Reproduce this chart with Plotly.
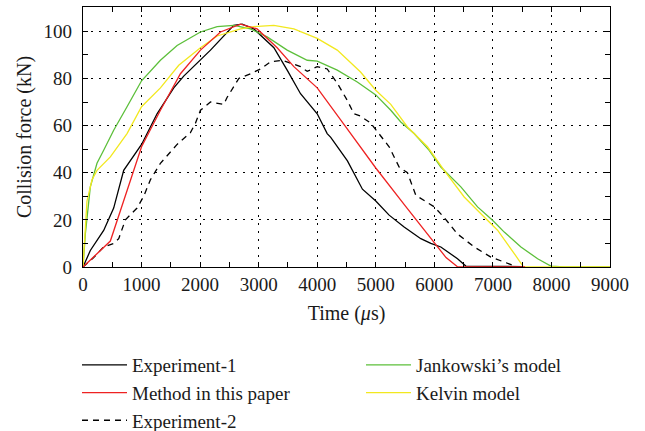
import plotly.graph_objects as go

# ---- data ----
exp1_t = [0, 125, 353, 524, 695, 1000, 1265, 1550, 1720, 1890, 2177, 2575, 2718, 2917, 3260, 3487, 3715, 4000, 4170, 4231, 4516, 4772, 5000, 5228, 5484, 5769, 5940, 6111, 6396, 6538, 7000, 7500]
exp1_f = [0, 7, 15.5, 25, 41, 52, 65, 76, 81, 85, 92, 102.5, 103, 101, 93, 83.5, 73.5, 65, 56.6, 55, 45, 33, 28, 22, 17, 12, 10, 8.5, 3.5, 0.4, 0.3, 0.2]

method_t = [0, 467, 1000, 1322, 1664, 2006, 2348, 2690, 2974, 3316, 3601, 4000, 4500, 5000, 5500, 6000, 6200, 6400, 7000, 7550]
method_f = [0, 11, 51, 66.5, 82, 92, 99.7, 103, 101, 93, 85, 76, 59, 42, 26, 10, 4, 0, 0, 0]

exp2_t = [0, 182, 353, 524, 610, 724, 923, 1037, 1151, 1322, 1607, 1835, 1920, 2006, 2177, 2405, 2462, 2661, 2860, 3031, 3202, 3402, 3601, 3715, 3829, 4000, 4171, 4342, 4513, 4627, 4740, 4915, 5228, 5399, 5541, 5598, 5684, 6000, 6168, 6396, 6681, 6966, 7250, 7420, 7500]
exp2_f = [0, 4, 8.5, 10, 12, 20, 25, 30, 37, 44, 52, 57, 61, 66.5, 70, 69, 72, 80, 82, 84, 87, 87.7, 86, 85, 83, 85, 84, 78, 70.7, 65, 64, 61, 51, 42.4, 40, 36, 30.4, 25.5, 21, 14, 8.5, 4.2, 1.4, 0, 0]

jank_t = [0, 40, 125, 239, 353, 524, 752, 1000, 1322, 1607, 2006, 2291, 2575, 2860, 3145, 3487, 3829, 4000, 4342, 4684, 5000, 5256, 5427, 5655, 5912, 6111, 6453, 6738, 6994, 7194, 7479, 7764, 7991, 8219, 9000]
jank_f = [0, 14, 34, 44, 49.5, 58, 68, 79, 87.7, 94, 99.7, 102, 102.5, 101, 97.6, 92, 87.7, 87.3, 83.5, 78.5, 73, 66.5, 61.5, 56.6, 49.5, 42.4, 34, 25.5, 19.8, 14.8, 8.5, 3.5, 0.4, 0, 0]

kelvin_t = [0, 68, 154, 239, 467, 752, 1000, 1322, 1635, 2006, 2291, 2690, 2917, 3259, 3601, 4000, 4342, 4740, 5000, 5256, 5541, 5883, 6168, 6510, 6795, 7080, 7365, 7524, 9000]
kelvin_f = [0, 28, 37, 41, 46.7, 56.6, 68, 76, 85.6, 93, 98, 101, 102, 102.5, 101, 97, 92, 82.7, 75, 69, 59.4, 51, 41, 29.7, 22.6, 15.6, 5.7, 0, 0]

x_ticks = [0, 1000, 2000, 3000, 4000, 5000, 6000, 7000, 8000, 9000]
y_ticks = [0, 20, 40, 60, 80, 100]

FONT = "Liberation Serif"

fig = go.Figure()
# drawing order: black, dashed, green, yellow, red (legend order set by legendrank)
fig.add_trace(go.Scatter(x=exp1_t, y=exp1_f, mode="lines", name="Experiment-1",
                         line=dict(color="#000000", width=1.3), legendrank=1))
fig.add_trace(go.Scatter(x=exp2_t, y=exp2_f, mode="lines", name="Experiment-2",
                         line=dict(color="#000000", width=1.3, dash="6px,5px"), legendrank=5))
fig.add_trace(go.Scatter(x=jank_t, y=jank_f, mode="lines", name="Jankowski\u2019s model",
                         line=dict(color="#5cbf3a", width=1.3), legendrank=2))
fig.add_trace(go.Scatter(x=kelvin_t, y=kelvin_f, mode="lines", name="Kelvin model",
                         line=dict(color="#f2e81f", width=1.3), legendrank=4))
fig.add_trace(go.Scatter(x=method_t, y=method_f, mode="lines", name="Method in this paper",
                         line=dict(color="#ee2222", width=1.3), legendrank=3))

axis_common = dict(
    showline=True, linecolor="#000000", linewidth=1.3, mirror="allticks",
    ticks="inside", ticklen=5, tickcolor="#000000", tickwidth=1,
    showgrid=True, gridcolor="#000000", gridwidth=1, griddash="1.5px,6.5px",
    zeroline=False, tickfont=dict(family=FONT, size=19, color="#1a1a1a"),
)

fig.update_xaxes(axis_common, range=[0, 9000], tickvals=x_ticks,
                 ticktext=[str(v) for v in x_ticks],
                 minor=dict(ticks="inside", ticklen=5, dtick=500, tickcolor="#000000", showgrid=False),
                 title=dict(text="Time (<i>\u03bc</i>s)", font=dict(family=FONT, size=20, color="#1a1a1a"), standoff=12),
                 ticklabelstandoff=0)
fig.update_yaxes(axis_common, range=[0, 110.3], tickvals=y_ticks,
                 ticktext=[str(v) for v in y_ticks],
                 minor=dict(ticks="inside", ticklen=5, dtick=10, tickcolor="#000000", showgrid=False),
                 title=dict(text="Collision force (kN)", font=dict(family=FONT, size=20, color="#1a1a1a"), standoff=6),
                 ticklabelstandoff=6)

fig.update_layout(
    width=645, height=431,
    margin=dict(l=83, r=35, t=7, b=164, pad=0, autoexpand=False),
    paper_bgcolor="#ffffff", plot_bgcolor="#ffffff",
    showlegend=True,
    legend=dict(orientation="h", x=(77 - 83) / 527, xanchor="left",
                y=(267 - 346) / 260, yanchor="top",
                entrywidth=224, entrywidthmode="pixels",
                itemwidth=45, traceorder="normal",
                font=dict(family=FONT, size=19, color="#1a1a1a"),
                bgcolor="rgba(0,0,0,0)"),
)

fig.write_html("out.html")
